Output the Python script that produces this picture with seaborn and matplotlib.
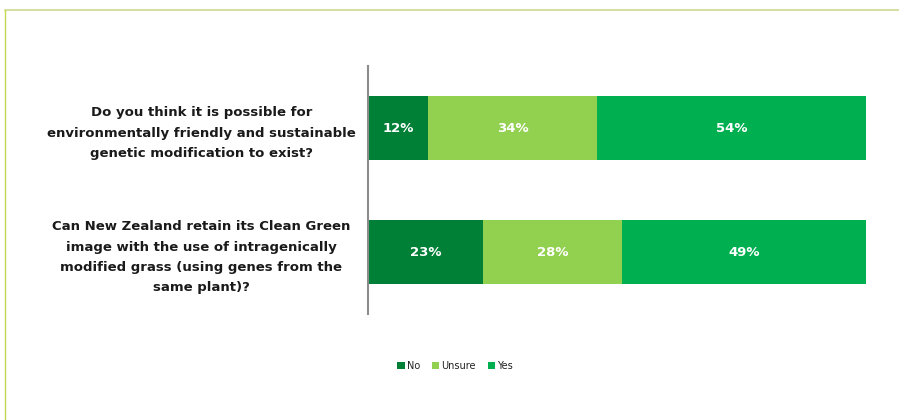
import matplotlib
matplotlib.use("Agg")
import matplotlib.pyplot as plt
import seaborn as sns
import pandas as pd
import numpy as np
from matplotlib.lines import Line2D
from matplotlib.patches import Patch

questions = [
    "Do you think it is possible for\nenvironmentally friendly and sustainable\ngenetic modification to exist?",
    "Can New Zealand retain its Clean Green\nimage with the use of intragenically\nmodified grass (using genes from the\nsame plant)?",
]
series = ["No", "Unsure", "Yes"]
no_vals = [12, 23]
unsure_vals = [34, 28]
yes_vals = [54, 49]
colors = {"No": "#007F37", "Unsure": "#92D050", "Yes": "#00B050"}

sns.set_theme(style="white")
plt.rcParams["font.family"] = ["DejaVu Sans"]

fig = plt.figure(figsize=(8.99, 4.2), dpi=100)
ax = fig.add_axes([368/899, 1-314/420, 498/899, 248/420])

vals = {"No": no_vals, "Unsure": unsure_vals, "Yes": yes_vals}
cum = {}
running = np.zeros(len(questions))
for s in series:
    running = running + np.array(vals[s])
    cum[s] = running.copy()

for s in reversed(series):
    df = pd.DataFrame({"q": questions, "v": cum[s]})
    sns.barplot(data=df, x="v", y="q", orient="h", color=colors[s],
                width=0.52, ax=ax, saturation=1, edgecolor="none")

for i in range(len(questions)):
    left = 0
    for s in series:
        v = vals[s][i]
        ax.text(left + v/2, i, f"{v}%", ha="center", va="center",
                color="white", fontsize=9.5, fontweight="bold")
        left += v

ax.set_xlim(0, 100)
ax.set_ylim(1.5, -0.5)
ax.set_xlabel("")
ax.set_ylabel("")
ax.set_xticks([])
for sp in ["top", "right", "bottom"]:
    ax.spines[sp].set_visible(False)
ax.spines["left"].set_color("#8C8C8C")
ax.spines["left"].set_linewidth(1.5)
ax.tick_params(axis="y", length=0, pad=120)
for lab in ax.get_yticklabels():
    lab.set_ha("center")
    lab.set_multialignment("center")
    lab.set_fontweight("bold")
    lab.set_fontsize(9.5)
    lab.set_color("#1a1a1a")
    lab.set_linespacing(1.75)

handles = [Patch(facecolor=colors[s], edgecolor="none", label=s) for s in series]
fig.legend(handles=handles, loc="center", bbox_to_anchor=(455/899, 1-366/420),
           ncol=3, frameon=False, fontsize=7, handlelength=0.8, handleheight=0.8,
           handletextpad=0.2, columnspacing=1.2, labelcolor="#222222")

fig.add_artist(Line2D([5/899, 1], [1-10/420, 1-10/420], transform=fig.transFigure,
                      color="#D5DFA4", linewidth=1.5))
fig.add_artist(Line2D([5/899, 5/899], [0, 1-10/420], transform=fig.transFigure,
                      color="#C3D84E", linewidth=1.0))

fig.savefig("out.png", dpi=100)
